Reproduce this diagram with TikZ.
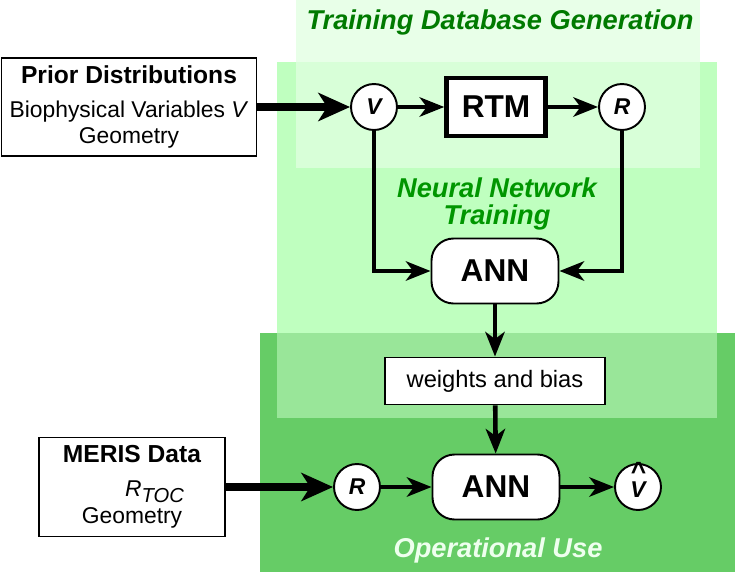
\documentclass[tikz,border=0pt]{standalone}
\usepackage{fontspec}
\setmainfont{Liberation Sans}
\usepackage{tikz}
\usetikzlibrary{arrows.meta}
\definecolor{dbband}{HTML}{E8FFE8}
\definecolor{dbnnband}{HTML}{D8FFD8}
\definecolor{nnband}{HTML}{BFFFBF}
\definecolor{opband}{HTML}{66CC66}
\definecolor{opnnband}{HTML}{99E699}
\definecolor{dbgreen}{HTML}{007A00}
\definecolor{nngreen}{HTML}{009600}
\definecolor{opgreen}{HTML}{EEFFEE}
\newcommand{\TOCsub}{\raisebox{-3pt}{\fontsize{11.5}{12}\selectfont\itshape TOC}}
\newcommand{\Vhat}{\ooalign{\raisebox{-3.5pt}{V}\cr\hidewidth\raisebox{6.5pt}{\smash{\fontsize{15}{15}\selectfont\textasciicircum}}\hidewidth\cr}}

\begin{document}
\begin{tikzpicture}[x=0.02cm, y=-0.02cm,
  varcirc/.style={circle, draw, fill=white, line width=1.1pt, minimum size=0.92cm, inner sep=0pt, font=\fontsize{13}{15}\selectfont\bfseries\itshape},
  rtmbox/.style={draw, fill=white, line width=2.5pt, minimum width=1.98cm, minimum height=1.16cm, inner sep=0pt, font=\fontsize{18}{20}\selectfont\bfseries},
  annbox/.style={draw, fill=white, rounded corners=0.44cm, line width=1.1pt, minimum width=2.54cm, minimum height=1.30cm, inner sep=0pt, font=\fontsize{18}{20}\selectfont\bfseries},
  inbox/.style={draw, fill=white, line width=1.1pt, align=center, inner sep=0pt, font=\fontsize{13}{15.3}\selectfont},
  flow/.style={line width=2.6pt, -{Stealth[length=14pt,width=11pt,inset=4pt]}},
  feed/.style={line width=5pt, -{Stealth[length=18pt,width=16pt,inset=5pt]}},
  phase/.style={align=center, font=\fontsize{15.5}{15.3}\selectfont\bfseries\itshape}]

\useasboundingbox (0,0) rectangle (735,572);

% coloured stages
\fill[dbband] (296,0) rectangle (700,168);
\fill[nnband] (277,62) rectangle (717,418);
\fill[dbnnband] (296,62) rectangle (700,168);
\fill[opband] (260,333) rectangle (735,572);
\fill[opnnband] (277,333) rectangle (717,418);

\draw (500,22) node[phase, text=dbgreen] {Training Database Generation};
\draw (497,204) node[phase, text=nngreen] {Neural Network\\Training};
\draw (498,550) node[phase, text=opgreen] {Operational Use};

% training
\draw (129,107) node[inbox, minimum width=5.1cm, minimum height=1.96cm] (prior)
  {{\fontsize{14}{16}\selectfont\bfseries Prior Distributions}\\[4pt]
   Biophysical Variables \textit{V}\\ Geometry};
\draw (374,107) node[varcirc] (v) {V};
\draw (496,107) node[rtmbox] (rtm) {RTM};
\draw (622,107) node[varcirc] (r) {R};
\draw (495,271) node[annbox] (ann) {ANN};

\draw[feed] (prior) -- (v);
\draw[flow] (v) -- (rtm);
\draw[flow] (rtm) -- (r);
\draw[flow] (v) |- (ann);
\draw[flow] (r) |- (ann);

% operational use
\draw (495,381) node[inbox, minimum width=4.4cm, minimum height=0.94cm, font=\fontsize{13.5}{15}\selectfont] (wb) {weights and bias};
\draw (132,487) node[inbox, minimum width=3.72cm, minimum height=1.98cm] (meris)
  {{\fontsize{14}{16}\selectfont\bfseries MERIS Data}\\[4pt]
   \hspace*{0.9cm}\textit{R}\TOCsub\\ Geometry};
\draw (357,487) node[varcirc] (rop) {R};
\draw (496,487) node[annbox] (annop) {ANN};
\draw (638,487) node[varcirc] (vhat) {\Vhat};

\draw[flow] (ann) -- (wb);
\draw[flow] (wb) -- (annop);
\draw[feed] (meris) -- (rop);
\draw[flow] (rop) -- (annop);
\draw[flow] (annop) -- (vhat);

\end{tikzpicture}
\end{document}
